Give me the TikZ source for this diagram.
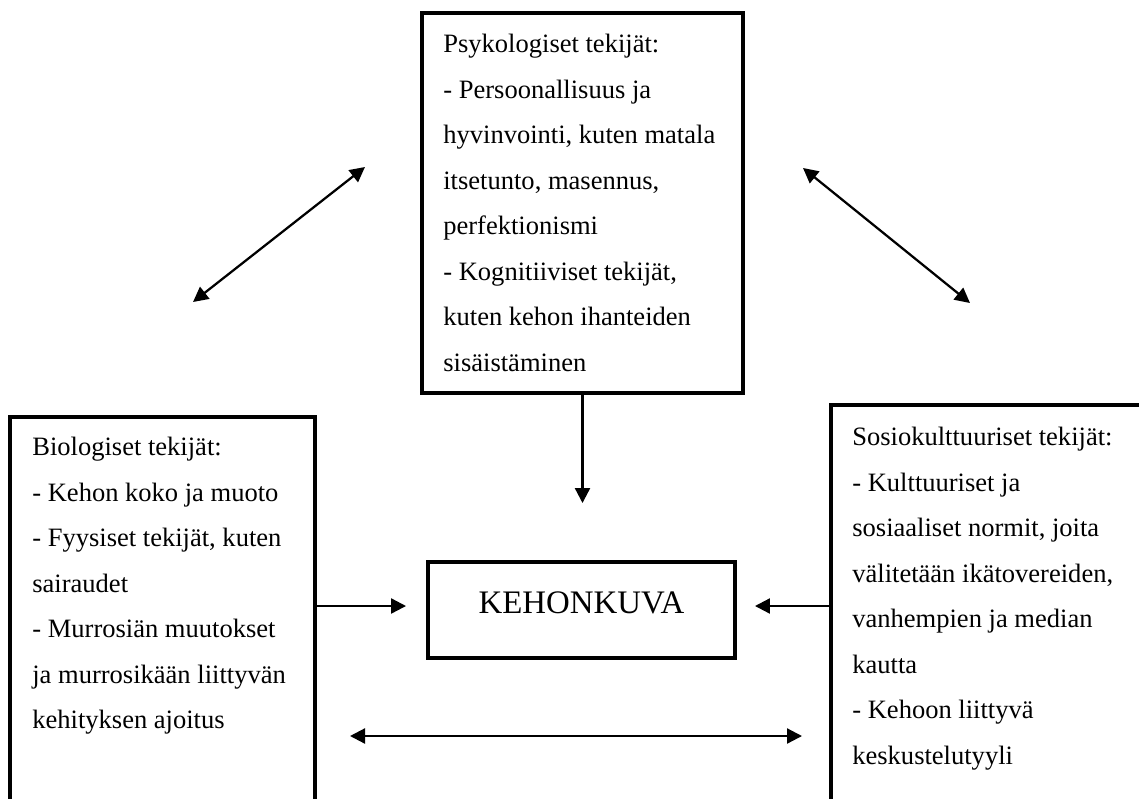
\documentclass[tikz,border=0pt]{standalone}
\usepackage{fontspec}
\setmainfont{Liberation Serif}
\usetikzlibrary{arrows.meta}
\begin{document}
\begin{tikzpicture}[
  x=0.02cm, y=-0.02cm,
  >={Triangle[length=0.3cm,width=0.3cm]},
  box/.style={draw,line width=0.08cm,inner sep=0pt},
  entry/.style={anchor=north west,align=left,inner sep=0pt,
    font=\fontsize{15.1}{25.9}\selectfont},
  title/.style={anchor=base,inner sep=0pt,font=\fontsize{18.7}{22}\selectfont},
  link/.style={<->,line width=0.045cm},
  push/.style={->,line width=0.045cm}
]
\useasboundingbox (0,0) rectangle (1139,798);
\clip (0,0) rectangle (1139,798);

\node[box,minimum width=6.42cm,minimum height=7.6cm] (psyk) at (582.5,203) {};
\node[box,minimum width=6.1cm,minimum height=9.66cm] (bio) at (162.5,658.5) {};
\node[box,minimum width=7.38cm,minimum height=9.9cm] (sosio) at (1015.5,652.5) {};
\node[box,minimum width=6.14cm,minimum height=1.92cm] (kuva) at (581.5,610) {};

\node[entry] (psyktext) at (443,34)
  {Psykologiset tekijät:\\
   - Persoonallisuus ja\\
   hyvinvointi, kuten matala\\
   itsetunto, masennus,\\
   perfektionismi\\
   - Kognitiiviset tekijät,\\
   kuten kehon ihanteiden\\
   sisäistäminen};
\node[entry] (biotext) at (32,437)
  {Biologiset tekijät:\\
   - Kehon koko ja muoto\\
   - Fyysiset tekijät, kuten\\
   sairaudet\\
   - Murrosiän muutokset\\
   ja murrosikään liittyvän\\
   kehityksen ajoitus};
\node[entry] (sosiotext) at (852,427)
  {Sosiokulttuuriset tekijät:\\
   - Kulttuuriset ja\\
   sosiaaliset normit, joita\\
   välitetään ikätovereiden,\\
   vanhempien ja median\\
   kautta\\
   - Kehoon liittyvä\\
   keskustelutyyli};
\node[title] (kuvanimi) at (581.5,613) {KEHONKUVA};

\coordinate (bioyla) at (193,302);
\coordinate (psykvasen) at (365,167);
\coordinate (psykoikea) at (803,168);
\coordinate (sosioyla) at (970,303);
\coordinate (taso) at (0,606);
\coordinate (alavasen) at (350,736);
\coordinate (alaoikea) at (802,736);

\draw[link] (bioyla) -- (psykvasen);
\draw[link] (psykoikea) -- (sosioyla);
\draw[push,shorten >=1.14cm] (psyk.south) -- (psyk.south |- kuva.north);
\draw[push,shorten >=0.4cm] (bio.east |- taso) -- (kuva.west |- taso);
\draw[push,shorten >=0.36cm] (sosio.west |- taso) -- (kuva.east |- taso);
\draw[link] (alavasen) -- (alaoikea);
\end{tikzpicture}
\end{document}
